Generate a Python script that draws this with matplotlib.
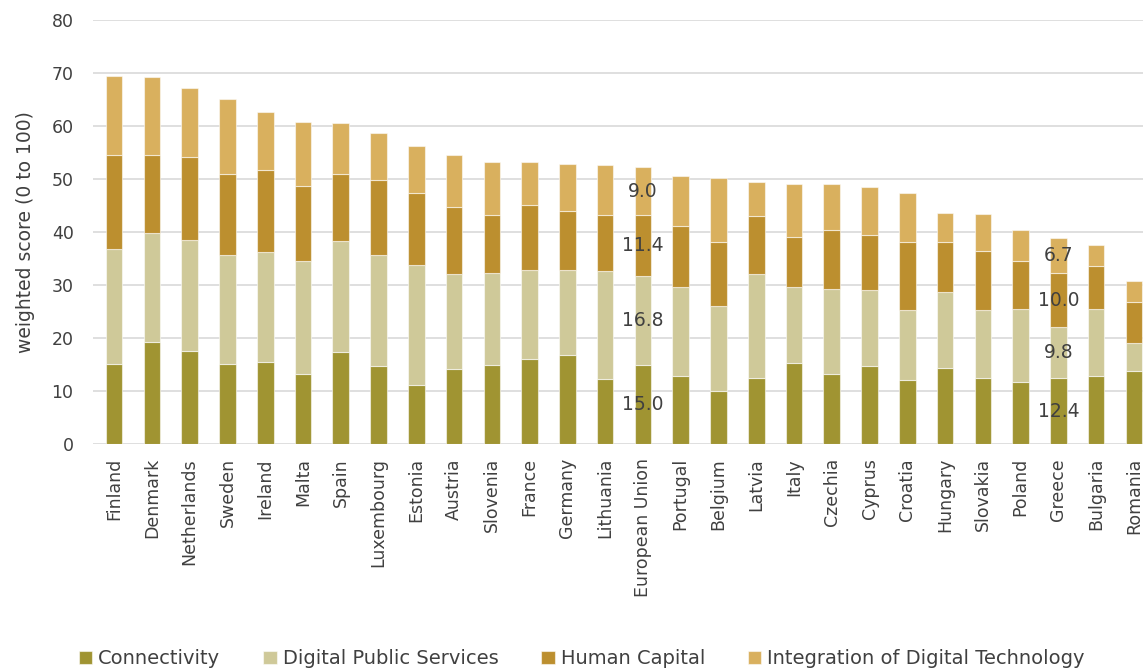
import matplotlib
matplotlib.use("Agg")
import matplotlib.pyplot as plt
import numpy as np

countries = ["Finland", "Denmark", "Netherlands", "Sweden", "Ireland", "Malta", "Spain",
             "Luxembourg", "Estonia", "Austria", "Slovenia", "France", "Germany", "Lithuania",
             "European Union", "Portugal", "Belgium", "Latvia", "Italy", "Czechia", "Cyprus",
             "Croatia", "Hungary", "Slovakia", "Poland", "Greece", "Bulgaria", "Romania"]

connectivity = [15.2, 19.3, 17.5, 15.1, 15.5, 13.3, 17.4, 14.8, 11.1, 14.2, 15.0, 16.1, 16.9, 12.3,
                15.0, 12.9, 10.0, 12.5, 15.3, 13.2, 14.7, 12.1, 14.4, 12.5, 11.7, 12.4, 12.8, 13.8]
digital_public_services = [21.7, 20.6, 21.0, 20.5, 20.7, 21.3, 20.9, 20.8, 22.7, 17.9, 17.3, 16.7, 15.9, 20.4,
                           16.8, 16.8, 16.1, 19.6, 14.4, 16.0, 14.4, 13.2, 14.3, 12.9, 13.8, 9.8, 12.7, 5.3]
human_capital = [17.7, 14.7, 15.7, 15.4, 15.6, 14.1, 12.7, 14.3, 13.5, 12.6, 11.0, 12.4, 11.1, 10.6,
                 11.4, 11.5, 12.1, 11.0, 9.3, 11.2, 10.4, 12.9, 9.5, 11.0, 9.1, 10.0, 8.2, 7.7]
integration_digital_tech = [14.9, 14.6, 13.0, 14.1, 10.8, 12.1, 9.6, 8.8, 9.0, 9.8, 10.0, 8.0, 9.0, 9.3,
                            9.0, 9.4, 12.0, 6.4, 10.1, 8.6, 9.0, 9.2, 5.5, 7.1, 5.8, 6.7, 3.9, 3.9]

series_names = ["Connectivity", "Digital Public Services", "Human Capital",
                "Integration of Digital Technology"]
series_colors = ["#A09432", "#CFC999", "#BC8F2F", "#D9B05E"]
labelled = ["European Union", "Greece"]

text_color = "#404040"
plt.rcParams["font.family"] = ["DejaVu Sans"]

fig = plt.figure(figsize=(11.43, 6.69), dpi=100)
ax = fig.add_axes([0.0814, 0.336, 0.9186, 0.634])

x = np.arange(len(countries))
bottom = np.zeros(len(countries))
series = [connectivity, digital_public_services, human_capital, integration_digital_tech]
handles = []
for vals, name, col in zip(series, series_names, series_colors):
    vals = np.array(vals)
    bars = ax.bar(x, vals, 0.44, bottom=bottom, color=col, label=name,
                  edgecolor=(1, 1, 1, 0.55), linewidth=0.8, zorder=3)
    handles.append(bars)
    for i, c in enumerate(countries):
        if c in labelled:
            ax.text(x[i], bottom[i] + vals[i] / 2, f"{vals[i]:.1f}", ha="center", va="center",
                    fontsize=13.5, color=text_color, zorder=4)
    bottom = bottom + vals

ax.set_ylim(0, 80)
ax.set_yticks(range(0, 81, 10))
ax.set_xlim(-0.56, 27.24)
ax.set_xticks(x)
ax.set_xticklabels(countries, rotation=90, fontsize=12.5, color=text_color)
ax.tick_params(axis="y", labelsize=12.5, colors=text_color, length=0, pad=14)
ax.tick_params(axis="x", length=0, pad=10)
ax.yaxis.grid(True, color="#D9D9D9", linewidth=1.2, zorder=0)
ax.set_axisbelow(True)
for s in ax.spines.values():
    s.set_visible(False)
ax.set_ylabel("weighted score (0 to 100)", fontsize=13.5, color=text_color, labelpad=12)

fig.legend(handles=handles, labels=series_names, loc="lower center", ncol=4,
           bbox_to_anchor=(0.509, -0.025), frameon=False, fontsize=14,
           handlelength=0.7, handleheight=0.7, handletextpad=0.3, columnspacing=2.2,
           labelcolor=text_color)

fig.savefig("out.png", dpi=100)
